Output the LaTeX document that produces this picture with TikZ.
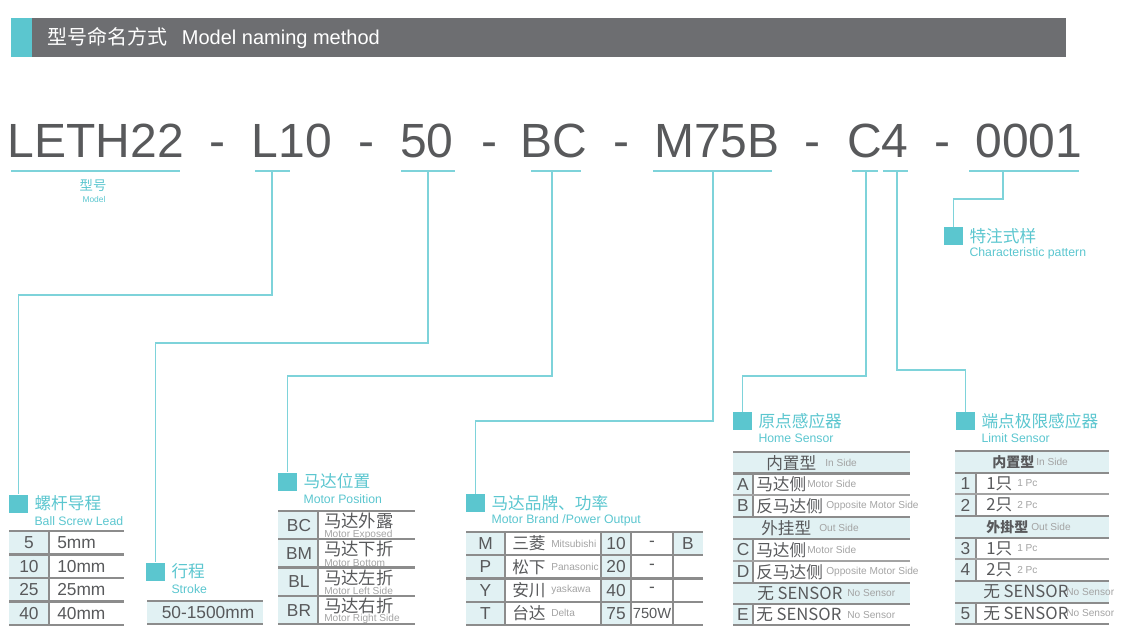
\documentclass[tikz,border=0pt]{standalone}
\usepackage{fontspec}
\setmainfont{Liberation Sans}
\newfontfamily\cjk{Noto Sans CJK SC}
\usetikzlibrary{calc, positioning}

\definecolor{tagteal}{HTML}{5BC6CF}
\definecolor{linkteal}{HTML}{7ED3DA}
\definecolor{headgray}{HTML}{6D6E71}
\definecolor{codegray}{HTML}{58595B}
\definecolor{cellfill}{HTML}{E1F1F3}
\definecolor{rulegray}{HTML}{8C8C8C}
\definecolor{notegray}{HTML}{A3A3A3}

\tikzset{
    code/.style={anchor=base, text=codegray, inner sep=0pt, font=\fontsize{36}{36}\selectfont},
    uline/.style={draw=linkteal, line width=1.1pt},
    link/.style={draw=linkteal, line width=1.1pt},
    tag/.style={fill=tagteal, minimum width=14.25pt, minimum height=13.5pt, inner sep=0pt},
    ttl/.style={anchor=west, text=tagteal, inner sep=0pt, font=\cjk\fontsize{12.5}{13}\selectfont},
    sub/.style={anchor=west, text=tagteal, inner sep=0pt, font=\fontsize{9.2}{10}\selectfont},
    cell/.style={text=codegray, inner sep=0pt, font=\fontsize{13}{13}\selectfont},
    cncell/.style={cell, anchor=west, font=\cjk\fontsize{12.5}{13}\selectfont},
    boldhead/.style={cncell, font=\cjk\bfseries\fontsize{10.5}{11}\selectfont},
    note/.style={anchor=west, text=notegray, inner sep=0pt, font=\fontsize{7.6}{8}\selectfont},
    rule/.style={draw=rulegray, line width=1.6pt},
    thinrule/.style={draw=rulegray!80, line width=0.8pt},
    vrule/.style={draw=rulegray, line width=1pt},
}

\begin{document}
\begin{tikzpicture}[x=0.75pt, y=-0.75pt]
    \useasboundingbox (0,0) rectangle (1128,640);

    % header bar
    \fill[tagteal] (11,18) rectangle (32,57);
    \fill[headgray] (32,18) rectangle (1066,57);
    \node[anchor=west, text=white, inner sep=0pt, font=\fontsize{15}{15}\selectfont] (hdr) at (47,38)
        {{\cjk 型号命名方式}\hspace{11pt}Model naming method};

    % model code
    \foreach \n/\x/\t in {Model/96/LETH22, Lead/292/L10, Stroke/427/50, Pos/554/BC,
        Brand/717/M75B, Sensor/878/C4, Spec/1029/0001}
        \node[code] (code\n) at (\x,157) {\t};
    \foreach \x in {217,366,489,621,812,942}
        \node[code] at (\x,157) {-};

    \foreach \a/\b in {11/180, 255/290, 401/455, 531/581, 653/772, 852/878, 883/908, 969/1079}
        \draw[uline] (\a,171) -- (\b,171);
    \foreach \n/\x in {Lead/272, Stroke/428, Pos/552, Brand/713, Home/866, Limit/897, Spec/1003}
        \coordinate (u\n) at (\x,171);

    \node[text=tagteal, inner sep=0pt, font=\cjk\fontsize{10}{10}\selectfont] (mdlCn) at (93,185) {型号};
    \node[text=tagteal, inner sep=0pt, font=\fontsize{6.3}{7}\selectfont] (mdlEn) at (94,199) {Model};

    % tags
    \foreach \n/\p/\cn/\en in {
        Lead/{18.5,503.5}/螺杆导程/Ball Screw Lead,
        Stroke/{155.5,571.5}/行程/Stroke,
        Pos/{287.5,481.5}/马达位置/Motor Position,
        Brand/{475.5,503}/马达品牌、功率/{Motor Brand /Power Output},
        Home/{742.5,421}/原点感应器/Home Sensor,
        Limit/{965.5,421}/端点极限感应器/Limit Sensor,
        Spec/{953.5,236}/特注式样/Characteristic pattern}
    {
        \node[tag] (tag\n) at (\p) {};
        \node[ttl, right=4.5pt of tag\n] (ttl\n) {\cn};
        \node[sub] (sub\n) at ($(ttl\n.west)+(0,17.5)$) {\en};
    }

    \draw[link] (uLead) -- ++(0,124) -| (tagLead.north);
    \draw[link] (uStroke) -- ++(0,172) -| (tagStroke.north);
    \draw[link] (uPos) -- ++(0,205) -| (tagPos.north);
    \draw[link] (uBrand) -- ++(0,250) -| (tagBrand.north);
    \draw[link] (uHome) -- ++(0,205) -| (tagHome.north);
    \draw[link] (uLimit) -- ++(0,199) -| (tagLimit.north);
    \draw[link] (uSpec) -- ++(0,28) -| (tagSpec.north);

    % ball screw lead
    \fill[cellfill] (9,531) rectangle (49,625);
    \draw[vrule] (49,531) -- (49,625);
    \foreach \y in {531,554.5,578,601.5,625} \draw[rule] (9,\y) -- (124,\y);
    \foreach \i/\a/\b in {0/5/5mm, 1/10/10mm, 2/25/25mm, 3/40/40mm}
    {
        \node[cell] at (29,{542.75+23.5*\i}) {\a};
        \node[cell, anchor=west] at (57,{542.75+23.5*\i}) {\b};
    }

    % stroke
    \fill[cellfill] (147,601) rectangle (263,624);
    \foreach \y in {601,624} \draw[rule] (147,\y) -- (263,\y);
    \node[cell] at (208,612.5) {50-1500mm};

    % motor position
    \fill[cellfill] (278,511) rectangle (318,624);
    \draw[vrule] (318,511) -- (318,624);
    \foreach \y in {511,539.25,567.5,595.75,624} \draw[rule] (278,\y) -- (415,\y);
    \foreach \i/\k/\cn/\en in {0/BC/马达外露/Motor Exposed, 1/BM/马达下折/Motor Bottom,
        2/BL/马达左折/Motor Left Side, 3/BR/马达右折/Motor Right Side}
    {
        \node[cell] at (299,{525.5+28.25*\i}) {\k};
        \node[cncell, font=\cjk\fontsize{13}{13}\selectfont] at (324,{521+28.25*\i}) {\cn};
        \node[note] at (324,{534.5+28.25*\i}) {\en};
    }

    % motor brand / power
    \fill[cellfill] (466,532) rectangle (505,625);
    \fill[cellfill] (601,532) rectangle (631,625);
    \fill[cellfill] (673,532) rectangle (703,555.25);
    \foreach \x in {505,601,631,673} \draw[vrule] (\x,532) -- (\x,625);
    \foreach \y in {532,555.25,578.5,601.75,625} \draw[rule] (466,\y) -- (703,\y);
    \foreach \i/\k/\cn/\en/\p/\w/\b in {0/M/三菱/Mitsubishi/10/-/B, 1/P/松下/Panasonic/20/-/{},
        2/Y/安川/yaskawa/40/-/{}, 3/T/台达/Delta/75/{}/{}}
    {
        \node[cell] at (485.5,{543.6+23.25*\i}) {\k};
        \node[cncell] at (512,{543.6+23.25*\i}) {\cn};
        \node[note] at (551,{543.6+23.25*\i}) {\en};
        \node[cell] at (616,{543.6+23.25*\i}) {\p};
        \node[cell] at (652,{543.6+23.25*\i}) {\w};
        \node[cell] at (688,{543.6+23.25*\i}) {\b};
    }
    \node[cell, font=\fontsize{11}{11}\selectfont] at (652,613.4) {750W};

    % home sensor
    \foreach \t/\b in {452/473.5, 517/539, 583/604}
        \fill[cellfill] (733,\t) rectangle (910,\b);
    \foreach \t/\b in {473.5/517, 539/583, 604/625}
    {
        \fill[cellfill] (733,\t) rectangle (753,\b);
        \draw[vrule] (753,\t) -- (753,\b);
    }
    \foreach \y in {452,473.5,517,539,583,604,625} \draw[rule] (733,\y) -- (910,\y);
    \foreach \y in {495,561} \draw[thinrule] (733,\y) -- (910,\y);
    \foreach \y/\x/\cn/\ex/\en in {462.75/766/内置型/825/In Side, 528/761/外挂型/819/Out Side,
        593.5/757/无 SENSOR/847/No Sensor}
    {
        \node[cncell] at (\x,\y) {\cn};
        \node[note] at (\ex,\y) {\en};
    }
    \foreach \y/\k/\cn/\ex/\en in {484.25/A/马达侧/807/Motor Side, 506/B/反马达侧/826/Opposite Motor Side,
        550/C/马达侧/807/Motor Side, 572/D/反马达侧/826/Opposite Motor Side, 614.5/E/无 SENSOR/847/No Sensor}
    {
        \node[cell] at (743,\y) {\k};
        \node[cncell] at (756,\y) {\cn};
        \node[note] at (\ex,\y) {\en};
    }

    % limit sensor
    \foreach \t/\b in {451/473, 516/538, 581/603}
        \fill[cellfill] (955,\t) rectangle (1109,\b);
    \foreach \t/\b in {473/516, 538/581, 603/624}
    {
        \fill[cellfill] (955,\t) rectangle (976,\b);
        \draw[vrule] (976,\t) -- (976,\b);
    }
    \foreach \y in {451,473,516,538,581,603,624} \draw[rule] (955,\y) -- (1109,\y);
    \foreach \y in {494,559} \draw[thinrule] (955,\y) -- (1109,\y);
    \node[boldhead] at (992,462) {内置型};
    \node[note] at (1036,462) {In Side};
    \node[boldhead] at (986,527) {外掛型};
    \node[note] at (1031,527) {Out Side};
    \node[cncell] at (983,592) {无 SENSOR};
    \node[note] at (1066,592) {No Sensor};
    \foreach \y/\k/\cn/\en in {483.5/1/1只/1 Pc, 505/2/2只/2 Pc, 548.5/3/1只/1 Pc, 570/4/2只/2 Pc}
    {
        \node[cell] at (965.5,\y) {\k};
        \node[cncell] at (986,\y) {\cn};
        \node[note] at (1017,\y) {\en};
    }
    \node[cell] at (965.5,613.5) {5};
    \node[cncell] at (983,613.5) {无 SENSOR};
    \node[note] at (1066,613.5) {No Sensor};
\end{tikzpicture}
\end{document}
